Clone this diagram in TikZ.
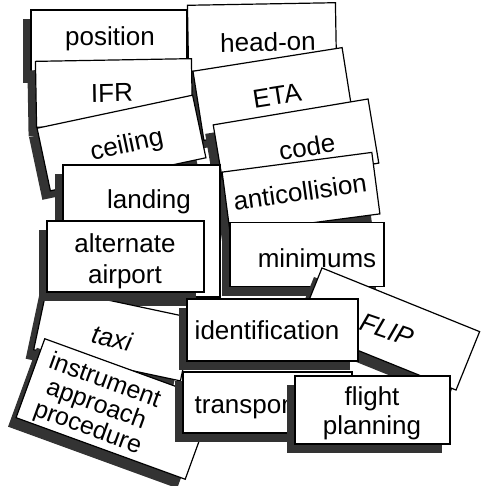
\documentclass[tikz,border=0pt]{standalone}
\usepackage{fontspec}
\setmainfont{Liberation Sans}
\begin{document}
\begin{tikzpicture}[x=1pt,y=-1pt,
    card/.style={draw=black, line width=1.2pt, fill=white, inner sep=0pt},
    cardshade/.style={fill=black!80, draw=none, inner sep=0pt},
    word/.style={inner sep=0pt, align=center, font=\fontsize{26}{31}\selectfont}]
  \useasboundingbox[fill=white] (0,0) rectangle (481,486);
  % head-on
  \node[cardshade, rotate=1, minimum width=148pt, minimum height=66pt] (headon-s) at (254,46) {};
  \node[card, rotate=1, minimum width=148pt, minimum height=66pt] (headon) at (262,37) {};
  \node[word, rotate=1] (headon-t) at (268,42) {head-on};
  % ETA
  \node[cardshade, rotate=9, minimum width=151pt, minimum height=70pt] (eta-s) at (265,103) {};
  \node[card, rotate=9, minimum width=151pt, minimum height=70pt] (eta) at (273,94) {};
  \node[word, rotate=9] (eta-t) at (277,96) {ETA};
  % position
  \node[cardshade, minimum width=156pt, minimum height=64pt] (position-s) at (101,51) {};
  \node[card, minimum width=156pt, minimum height=64pt] (position) at (109,42) {};
  \node[word] (position-t) at (110,39) {position};
  % IFR
  \node[cardshade, rotate=1, minimum width=156pt, minimum height=66pt] (ifr-s) at (106,102) {};
  \node[card, rotate=1, minimum width=156pt, minimum height=66pt] (ifr) at (114,93) {};
  \node[word, rotate=1] (ifr-t) at (112,93) {IFR};
  % ceiling
  \node[cardshade, rotate=12, minimum width=159pt, minimum height=64pt] (ceiling-s) at (113.5,152) {};
  \node[card, rotate=12, minimum width=159pt, minimum height=64pt] (ceiling) at (121.5,143) {};
  \node[word, rotate=12] (ceiling-t) at (127,146) {ceiling};
  % code
  \node[cardshade, rotate=9.5, minimum width=157pt, minimum height=65pt] (code-s) at (288,153) {};
  \node[card, rotate=9.5, minimum width=157pt, minimum height=65pt] (code) at (296,144) {};
  \node[word, rotate=9.5] (code-t) at (307,147) {code};
  % anticollision
  \node[cardshade, rotate=7.5, minimum width=151pt, minimum height=62pt] (anti-s) at (293,202) {};
  \node[card, rotate=7.5, minimum width=151pt, minimum height=62pt] (anti) at (301,193) {};
  \node[word, rotate=8] (anti-t) at (300,192) {anticollision};
  % landing
  \node[cardshade, minimum width=157pt, minimum height=132pt] (landing-s) at (133.5,240) {};
  \node[card, minimum width=157pt, minimum height=132pt] (landing) at (141.5,231) {};
  \node[word] (landing-t) at (149,202) {landing};
  % taxi
  \node[cardshade, rotate=-12, minimum width=150pt, minimum height=64pt] (taxi-s) at (105.7,343) {};
  \node[card, rotate=-12, minimum width=150pt, minimum height=64pt] (taxi) at (113.7,334) {};
  \node[word, rotate=-12] (taxi-t) at (112,338) {\itshape taxi};
  % alternate airport
  \node[cardshade, minimum width=157pt, minimum height=71pt] (alternate-s) at (117.5,265.5) {};
  \node[card, minimum width=157pt, minimum height=71pt] (alternate) at (125.5,256.5) {};
  \node[word] (alternate-t) at (125,261) {alternate\\airport};
  % minimums
  \node[cardshade, minimum width=154pt, minimum height=64pt] (minimums-s) at (299,263.5) {};
  \node[card, minimum width=154pt, minimum height=64pt] (minimums) at (307,254.5) {};
  \node[word] (minimums-t) at (317,258) {minimums};
  % FLIP
  \node[cardshade, rotate=-22, minimum width=170pt, minimum height=63pt] (flip-s) at (381,338) {};
  \node[card, rotate=-22, minimum width=170pt, minimum height=63pt] (flip) at (389,329) {};
  \node[word, rotate=-19] (flip-t) at (387,330) {\itshape FLIP};
  % instrument approach procedure
  \node[cardshade, rotate=-20, minimum width=180pt, minimum height=84pt] (iap-s) at (107,418) {};
  \node[card, rotate=-20, minimum width=180pt, minimum height=84pt] (iap) at (115,409) {};
  \node[word, rotate=-20, font=\fontsize{25}{25}\selectfont] (iap-t) at (96,405) {instrument\\approach\\procedure};
  % transponder
  \node[cardshade, minimum width=169pt, minimum height=61pt] (transponder-s) at (259.5,411.5) {};
  \node[card, minimum width=169pt, minimum height=61pt] (transponder) at (267.5,402.5) {};
  \node[word] (transponder-t) at (264,407) {transponder};
  % identification
  \node[cardshade, minimum width=171pt, minimum height=62pt] (ident-s) at (264.5,339) {};
  \node[card, minimum width=171pt, minimum height=62pt] (ident) at (272.5,330) {};
  \node[word] (ident-t) at (267,330) {identification};
  % flight planning
  \node[cardshade, minimum width=155pt, minimum height=68pt] (flight-s) at (364.5,419) {};
  \node[card, minimum width=155pt, minimum height=68pt] (flight) at (372.5,410) {};
  \node[word, font=\fontsize{26}{29}\selectfont] (flight-t) at (372,413) {flight\\planning};
\end{tikzpicture}
\end{document}
